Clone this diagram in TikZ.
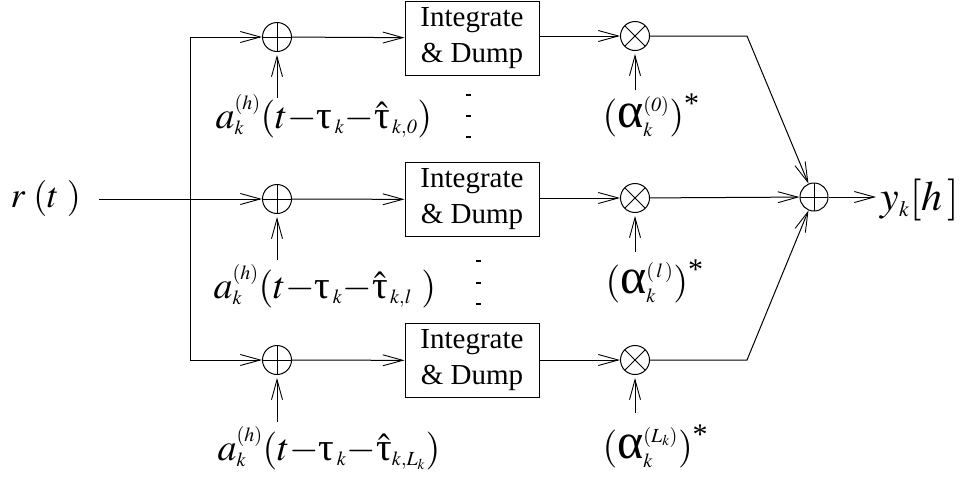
\documentclass[tikz,border=0pt]{standalone}
\usepackage{amsmath}
\usepackage{mathptmx}
\usepackage{fontspec}
\setmainfont{Liberation Serif}
\usetikzlibrary{arrows.meta}
\DeclareMathSizes{38}{38}{20}{15}
\DeclareMathSizes{36}{36}{19}{14}
\DeclareMathSizes{42}{42}{22}{16}
\newcommand{\gt}{\text{\normalfont\upshape\fontsize{39}{39}\selectfont τ}}
\newcommand{\ga}{\text{\normalfont\upshape\fontsize{50}{50}\selectfont α}}
\newcommand{\cst}{\text{\normalfont\fontsize{30}{30}\selectfont *}}
\newcommand{\mn}{\mathord{-}}
\begin{document}
\begin{tikzpicture}[x=1pt,y=-1pt,
  line width=1pt,
  >={Straight Barb[length=20pt,width=11pt,line width=0.9pt]},
  sumnode/.style={circle,draw,minimum size=29pt,inner sep=0pt,path picture={
     \draw[line width=1pt] (path picture bounding box.north) -- (path picture bounding box.south)
       (path picture bounding box.west) -- (path picture bounding box.east);}},
  mulnode/.style={circle,draw,minimum size=29pt,inner sep=0pt,path picture={
     \draw[line width=1pt] (path picture bounding box.north west) -- (path picture bounding box.south east)
       (path picture bounding box.south west) -- (path picture bounding box.north east);}},
  idbox/.style={draw,minimum width=134pt,minimum height=74pt,inner sep=0pt,align=center,
     font=\fontsize{29}{36}\selectfont},
  lab/.style={inner sep=0pt,font=\fontsize{38}{42}\selectfont},
  dotmark/.style={fill,minimum width=5pt,minimum height=2pt,inner sep=0pt}
]
\useasboundingbox (0,0) rectangle (965,480);

% input
\node[inner sep=0pt,font=\fontsize{36}{40}\selectfont,anchor=base west] (r) at (10,207) {$r\;(t\;)$};
\coordinate (rin) at (99,199);
\coordinate (bt) at (190,37);
\coordinate (bm) at (190,199);
\coordinate (bb) at (190,360);

% adders
\node[sumnode] (s0) at (277,37) {};
\node[sumnode] (s1) at (277,199) {};
\node[sumnode] (s2) at (277,360) {};

% boxes
\node[idbox] (i0) at (472,38) {Integrate\\ \& Dump};
\node[idbox] (i1) at (472,199.5) {Integrate\\ \& Dump};
\node[idbox] (i2) at (472,360.5) {Integrate\\ \& Dump};

% multipliers
\node[mulnode] (m0) at (635,36) {};
\node[mulnode] (m1) at (635,198) {};
\node[mulnode] (m2) at (635,360) {};

% final sum
\node[sumnode,minimum size=28pt] (S) at (814,197) {};
\node[inner sep=0pt,font=\fontsize{42}{46}\selectfont,anchor=base west] (y) at (880,210) {$y_k[h\,]$};
\coordinate (yin) at (876,197);

\coordinate (c0) at (747,36);
\coordinate (c2) at (747,360);

% labels
\node[lab,anchor=base west] (a0) at (215,128) {$a_k^{(h)}(t\mn\gt_{\,k}\mn\hat{\gt}_{\,k,\mathit{0}})$};
\node[lab,anchor=base west] (a1) at (213,298) {$a_k^{(h)}(t\mn\gt_{\,k}\mn\hat{\gt}_{\,k,l}\ )$};
\node[lab,anchor=base west] (a2) at (217,460) {$a_k^{(h)}(t\mn\gt_{\,k}\mn\hat{\gt}_{k,L_k})$};
\coordinate (a0t) at (277,98);
\coordinate (a1t) at (277,260);
\coordinate (a2t) at (277,422);

\node[lab,anchor=base west] (b0) at (602,127) {$(\ga_k^{(\mathit{0})})^{\cst}$};
\node[lab,anchor=base west] (b1) at (605,293) {$(\ga_k^{(\,l\,)})^{\cst}$};
\node[lab,anchor=base west] (b2) at (602,458) {$(\ga_k^{(L_k)})^{\cst}$};
\coordinate (b0t) at (635,90);
\coordinate (b1t) at (635,252);
\coordinate (b2t) at (635,413);

% dots
\node[dotmark] (d0) at (468,95) {};
\node[dotmark] (d1) at (468,116) {};
\node[dotmark] (d2) at (468,137) {};
\node[dotmark] (d3) at (478,261) {};
\node[dotmark] (d4) at (478,283) {};
\node[dotmark] (d5) at (478,304) {};

% connectors
\draw (bt) -- (bb);
\draw[->] (rin) -- (s1);
\draw[->] (bt) -- (s0);
\draw[->] (bb) -- (s2);
\draw[->] (s0) -- (i0);
\draw[->] (s1) -- (i1);
\draw[->] (s2) -- (i2);
\draw[->] (i0.east |- m0) -- (m0);
\draw[->] (i1.east |- m1) -- (m1);
\draw[->] (i2.east |- m2) -- (m2);
\draw[->, shorten >=3pt] (a0t) -- (s0);
\draw[->, shorten >=3pt] (a1t) -- (s1);
\draw[->, shorten >=3pt] (a2t) -- (s2);
\draw[->, shorten >=3pt] (b0t) -- (m0);
\draw[->, shorten >=3pt] (b1t) -- (m1);
\draw[->, shorten >=3pt] (b2t) -- (m2);
\draw[->] (m0) -- (c0) -- (S);
\draw[->] (m1) -- (S);
\draw[->] (m2) -- (c2) -- (S);
\draw[->] (S) -- (yin);
\end{tikzpicture}
\end{document}
